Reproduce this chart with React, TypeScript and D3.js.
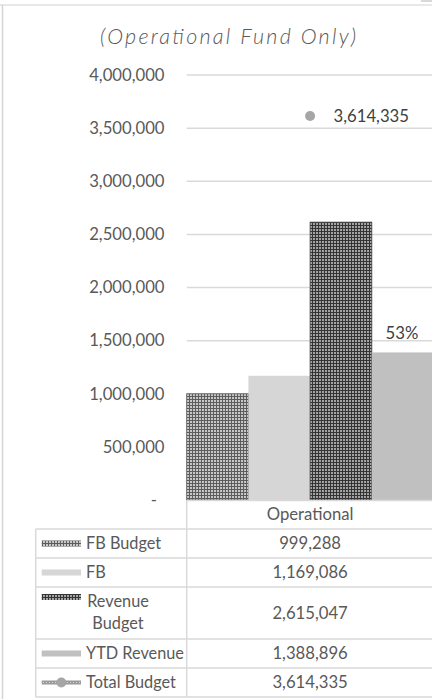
import React from 'react';
import * as d3 from 'd3';

const categories = ['Operational'];
const barSeries = ['FB Budget', 'FB', 'Revenue Budget', 'YTD Revenue'];
const barValues = [999288, 1169086, 2615047, 1388896];
const lineSeries = 'Total Budget';
const lineValues = [3614335];
const title = '(Operational Fund Only)';

const W = 432;
const H = 699;
const FONT = 'Lato, "Open Sans", sans-serif';
const TEXT = '#595959';
const GRID = '#d9d9d9';

// fill per series (patterned ones use the defs below)
const fills: Record<string, string> = {
  'FB Budget': 'url(#dotLight)',
  FB: '#d6d6d6',
  'Revenue Budget': 'url(#dotDark)',
  'YTD Revenue': '#c0c0c0',
};
const outlines: Record<string, string> = {
  'FB Budget': '#5a5a5a',
  FB: 'none',
  'Revenue Budget': '#3a3a3a',
  'YTD Revenue': 'none',
};

export default function App() {
  const plotLeft = 186.7;
  const plotRight = 433.5;
  const y = d3.scaleLinear().domain([0, 4000000]).range([500, 75]);
  const x = d3.scaleBand<string>().domain(categories).range([plotLeft, plotRight]).padding(0);
  const xs = d3.scaleBand<string>().domain(barSeries).range([0, x.bandwidth()]).padding(0);
  const fmt = d3.format(',');
  const ticks = y.ticks(8);

  // data table rows (legend + values)
  const rowEdges = [500, 529, 558, 587, 639, 668, 697];
  const tableLeft = 35.7;
  const keyX = 41.7;
  const keyW = 39.3;
  const rows = [
    ...barSeries.map((s, i) => ({ name: s, value: barValues[i], kind: 'bar' })),
    { name: lineSeries, value: lineValues[0], kind: 'line' },
  ];

  const revIdx = barSeries.indexOf('Revenue Budget');
  const ytdIdx = barSeries.indexOf('YTD Revenue');
  const pct = Math.round((barValues[ytdIdx] / barValues[revIdx]) * 100);

  return (
    <svg
      width={W}
      height={H}
      style={{ position: 'fixed', left: 0, top: 0, background: '#fff' }}
      fontFamily={FONT}
    >
      <defs>
        <pattern id="dotLight" width={3} height={3} patternUnits="userSpaceOnUse">
          <rect width={3} height={3} fill="#5c5c5c" />
          <rect x={1} y={1} width={2} height={2} fill="#c8c8c8" />
        </pattern>
        <pattern id="dotDark" width={3} height={3} patternUnits="userSpaceOnUse">
          <rect width={3} height={3} fill="#343434" />
          <rect x={1} y={1} width={2} height={2} fill="#a4a4a4" />
        </pattern>
        <pattern id="lineDots" width={3} height={3} patternUnits="userSpaceOnUse">
          <rect width={3} height={3} fill="#9a9a9a" />
          <rect x={1} y={1} width={1} height={1} fill="#dcdcdc" />
        </pattern>
      </defs>

      {/* outer frame */}
      <line x1={0} x2={W} y1={5} y2={5} stroke="#e0e0e0" strokeWidth={1.5} />
      <line x1={2.5} x2={2.5} y1={5} y2={H} stroke="#d4d4d4" strokeWidth={1.5} />
      <rect x={421} y={0} width={11} height={2} fill="#d9d9d9" />

      <text
        x={228}
        y={36}
        textAnchor="middle"
        dy="0.35em"
        fontStyle="italic"
        fontWeight={300}
        fontSize={21.5}
        fill={TEXT}
        textLength={256}
        lengthAdjust="spacing"
      >
        {title}
      </text>

      {/* gridlines */}
      {ticks.filter(t => t > 0).map(t => (
        <line key={t} x1={plotLeft} x2={W} y1={y(t)} y2={y(t)} stroke={GRID} strokeWidth={1.5} />
      ))}

      {/* y labels */}
      {ticks.map(t => (
        <text
          key={'l' + t}
          x={t === 0 ? 157 : 164.5}
          y={y(t)}
          dy="0.35em"
          textAnchor="end"
          fontSize={16.7}
          fill={TEXT}
        >
          {t === 0 ? '-' : fmt(t)}
        </text>
      ))}

      {/* bars */}
      {categories.map(c =>
        barSeries.map((s, i) => {
          const v = barValues[i];
          const bx = (x(c) ?? 0) + (xs(s) ?? 0);
          const bw = xs.bandwidth();
          return (
            <rect
              key={c + s}
              x={bx}
              y={y(v)}
              width={bw}
              height={y(0) - y(v)}
              fill={fills[s]}
              stroke={outlines[s]}
              strokeWidth={outlines[s] === 'none' ? 0 : 0.8}
            />
          );
        })
      )}

      {/* percent label over YTD Revenue */}
      <text
        x={(x(categories[0]) ?? 0) + (xs(barSeries[ytdIdx]) ?? 0) + xs.bandwidth() / 2 - 0.7}
        y={y(barValues[ytdIdx]) - 19}
        dy="0.35em"
        textAnchor="middle"
        fontSize={16.7}
        fill="#404040"
      >
        {pct + '%'}
      </text>

      {/* Total Budget marker */}
      {categories.map((c, ci) => {
        const cx = (x(c) ?? 0) + x.bandwidth() / 2;
        const cy = y(lineValues[ci]);
        return (
          <g key={'m' + c}>
            <circle cx={cx} cy={cy} r={5} fill="#a6a6a6" />
            <text x={cx + 23.5} y={cy} dy="0.35em" fontSize={16.7} fill="#404040">
              {fmt(lineValues[ci])}
            </text>
          </g>
        );
      })}

      {/* data table */}
      <line x1={plotLeft} x2={W} y1={rowEdges[0] + 0.5} y2={rowEdges[0] + 0.5} stroke={GRID} strokeWidth={1.5} />
      {rowEdges.slice(1).map(e => (
        <line key={'r' + e} x1={tableLeft} x2={W} y1={e} y2={e} stroke={GRID} strokeWidth={1.5} />
      ))}
      <line x1={plotLeft} x2={plotLeft} y1={rowEdges[0]} y2={rowEdges[rowEdges.length - 1]} stroke={GRID} strokeWidth={1.5} />
      <line x1={tableLeft} x2={tableLeft} y1={rowEdges[1]} y2={rowEdges[rowEdges.length - 1]} stroke={GRID} strokeWidth={1.5} />

      {categories.map(c => (
        <text
          key={'c' + c}
          x={(x(c) ?? 0) + x.bandwidth() / 2}
          y={(rowEdges[0] + rowEdges[1]) / 2}
          dy="0.35em"
          textAnchor="middle"
          fontSize={16.7}
          fill={TEXT}
        >
          {c}
        </text>
      ))}

      {rows.map((r, i) => {
        const top = rowEdges[i + 1];
        const bottom = rowEdges[i + 2];
        const mid = (top + bottom) / 2;
        const twoLine = r.name === 'Revenue Budget';
        const keyY = twoLine ? top + 10 : mid;
        return (
          <g key={'row' + r.name}>
            {r.kind === 'bar' ? (
              <rect
                x={keyX}
                y={keyY - 3}
                width={keyW}
                height={6}
                fill={fills[r.name]}
              />
            ) : (
              <g>
                <rect x={keyX} y={keyY - 2} width={keyW} height={4} fill="url(#lineDots)" />
                <circle cx={keyX + keyW / 2} cy={keyY} r={5} fill="#a6a6a6" />
              </g>
            )}
            {twoLine ? (
              <>
                <text x={118} y={top + 14.5} dy="0.35em" textAnchor="middle" fontSize={16.3} fill={TEXT}>
                  Revenue
                </text>
                <text x={118} y={top + 36} dy="0.35em" textAnchor="middle" fontSize={16.3} fill={TEXT}>
                  Budget
                </text>
              </>
            ) : (
              <text x={86} y={mid} dy="0.35em" fontSize={16.3} fill={TEXT}>
                {r.name}
              </text>
            )}
            <text
              x={(x(categories[0]) ?? 0) + x.bandwidth() / 2}
              y={mid}
              dy="0.35em"
              textAnchor="middle"
              fontSize={16.7}
              fill={TEXT}
            >
              {fmt(r.value)}
            </text>
          </g>
        );
      })}
    </svg>
  );
}
